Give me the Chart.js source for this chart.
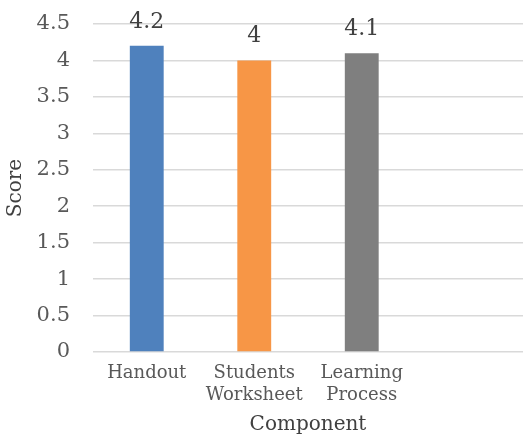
<!DOCTYPE html>
<html>
<head>
<meta charset="utf-8">
<script src="https://cdn.jsdelivr.net/npm/chart.js@4"></script>
<style>
  html, body { margin: 0; padding: 0; background: #fff; }
  #wrap { width: 523px; height: 437px; }
</style>
</head>
<body>
<div id="wrap"><canvas id="scoreChart" width="523" height="437"></canvas></div>
<script>
// components on the x axis (last slot left empty)
const components = [['Handout'], ['Students', 'Worksheet'], ['Learning', 'Process'], ''];
const scores = [4.2, 4.0, 4.1, null];
const barColors = ['#4f81bd', '#f79646', '#7f7f7f', '#7f7f7f'];
const yTicks = [0, 0.5, 1, 1.5, 2, 2.5, 3, 3.5, 4, 4.5];

const FONT = "'DejaVu Serif', serif";

// value above each bar
const valueLabels = {
  id: 'valueLabels',
  afterDatasetsDraw(chart) {
    const ctx = chart.ctx;
    const meta = chart.getDatasetMeta(0);
    ctx.save();
    ctx.font = '22px ' + FONT;
    ctx.fillStyle = '#404040';
    ctx.textAlign = 'center';
    ctx.textBaseline = 'middle';
    meta.data.forEach((bar, i) => {
      if (scores[i] == null) return;
      ctx.fillText(String(scores[i]), bar.x, bar.y - 24);
    });
    ctx.restore();
  }
};

new Chart(document.getElementById('scoreChart').getContext('2d'), {
  type: 'bar',
  data: {
    labels: components,
    datasets: [{
      data: scores,
      backgroundColor: barColors,
      borderWidth: 0,
      barPercentage: 0.315,
      categoryPercentage: 1
    }]
  },
  options: {
    responsive: false,
    animation: false,
    layout: { padding: { top: 24, right: 0, bottom: 0, left: 0 } },
    plugins: {
      legend: { display: false },
      tooltip: { enabled: false }
    },
    scales: {
      x: {
        grid: { display: false, drawTicks: false },
        border: { display: false },
        ticks: {
          color: '#595959',
          font: { family: FONT, size: 18, lineHeight: 1.2 },
          padding: 11,
          maxRotation: 0,
          autoSkip: false
        },
        title: {
          display: true,
          text: 'Component',
          color: '#404040',
          font: { family: FONT, size: 20 },
          padding: { top: 0, bottom: 0 }
        },
        afterFit(scale) { scale.height = 85; }
      },
      y: {
        min: 0,
        max: 4.5,
        afterBuildTicks(scale) { scale.ticks = yTicks.map(v => ({ value: v })); },
        grid: { color: '#d9d9d9', lineWidth: 1.5, drawTicks: false },
        border: { display: false },
        ticks: {
          color: '#595959',
          font: { family: FONT, size: 21 },
          padding: 23,
          callback: value => String(value)
        },
        title: {
          display: true,
          text: 'Score',
          color: '#404040',
          font: { family: FONT, size: 20 },
          padding: { top: 4, bottom: 0 }
        },
        afterFit(scale) {
          scale.width = 93;
          // tick padding would otherwise push the plot top down
          scale.paddingTop = 0;
          scale.paddingBottom = 0;
        }
      }
    }
  },
  plugins: [valueLabels]
});
</script>
</body>
</html>
